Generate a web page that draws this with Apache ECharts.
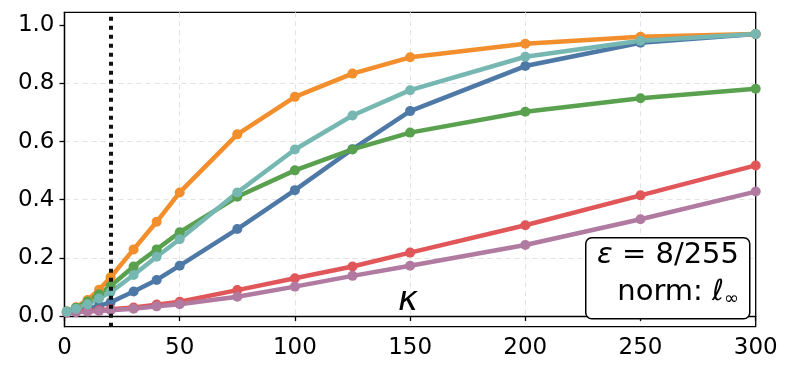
<!DOCTYPE html>
<html>
<head>
<meta charset="utf-8">
<script src="https://cdn.jsdelivr.net/npm/echarts@6/dist/echarts.min.js"></script>
<style>
  html, body { margin: 0; padding: 0; background: #fff; }
  #chart { width: 792px; height: 376px; }
</style>
</head>
<body>
<div id="chart"></div>
<script>
const kappa = [1, 5, 10, 15, 20, 30, 40, 50, 75, 100, 125, 150, 200, 250, 300]
const yTicks = [0, 0.2, 0.4, 0.6, 0.8, 1.0]

const blue = [0.012, 0.018, 0.025, 0.035, 0.047, 0.084, 0.124, 0.173, 0.299, 0.433, 0.574, 0.705, 0.86, 0.94, 0.97]
const orange = [0.015, 0.03, 0.055, 0.09, 0.133, 0.229, 0.324, 0.425, 0.625, 0.754, 0.834, 0.89, 0.937, 0.961, 0.97]
const green = [0.015, 0.028, 0.05, 0.075, 0.103, 0.17, 0.229, 0.288, 0.41, 0.501, 0.573, 0.631, 0.703, 0.749, 0.782]
const red = [0.012, 0.015, 0.018, 0.02, 0.023, 0.029, 0.039, 0.049, 0.089, 0.13, 0.17, 0.218, 0.312, 0.415, 0.518]
const purple = [0.012, 0.013, 0.015, 0.017, 0.02, 0.025, 0.033, 0.04, 0.066, 0.101, 0.138, 0.173, 0.244, 0.333, 0.428]
const teal = [0.015, 0.025, 0.04, 0.06, 0.082, 0.141, 0.204, 0.264, 0.425, 0.573, 0.69, 0.777, 0.892, 0.947, 0.97]

const markerK = 20

const chart = echarts.init(document.getElementById('chart'))

const font = 'DejaVu Sans'

// draw order matters: later series sit on top
const lines = [
  { data: blue, color: '#4e79a7' },
  { data: orange, color: '#f28e2b' },
  { data: green, color: '#59a14f' },
  { data: red, color: '#e15759' },
  { data: purple, color: '#b07aa1' },
  { data: teal, color: '#76b7b2' }
]

const series = lines.map(l => ({
  type: 'line',
  data: kappa.map((k, i) => [k, l.data[i]]),
  symbol: 'circle',
  symbolSize: 10,
  clip: false,
  lineStyle: { width: 4.5, color: l.color },
  itemStyle: { color: l.color },
  emphasis: { disabled: true },
  z: 3
}))

// dotted vertical line at kappa = 20, drawn above the curves
series.push({
  type: 'line',
  data: [],
  markLine: {
    silent: true,
    symbol: 'none',
    label: { show: false },
    lineStyle: { color: '#111', type: [4, 5], width: 4 },
    data: [{ xAxis: markerK }]
  },
  z: 5
})

const gridLine = { show: true, showMaxLine: false, lineStyle: { color: '#e3e3e3', type: [5, 4], width: 1 } }

const boxRich = {
  e: { font: 'italic 29px DejaVu Sans', fill: '#000' },
  n: { font: '29px DejaVu Sans', fill: '#000' },
  s: { font: '18px DejaVu Sans', fill: '#000', padding: [14, 0, 0, 0] }
}

chart.setOption({
  animation: false,
  grid: {
    left: 64.5,
    right: 36.3,
    top: 12.3,
    bottom: 49.3,
    show: true,
    borderColor: '#000',
    borderWidth: 1.3,
    backgroundColor: 'transparent'
  },
  xAxis: {
    type: 'value',
    min: 0,
    max: 300,
    interval: 50,
    axisLine: { show: true, lineStyle: { color: '#000', width: 1.3 } },
    axisTick: { show: true, length: 5, lineStyle: { color: '#000', width: 1.3 } },
    axisLabel: { color: '#000', fontSize: 23, fontFamily: font, margin: 10, showMaxLabel: true, showMinLabel: true },
    splitLine: gridLine
  },
  yAxis: {
    type: 'value',
    min: -0.037,
    max: 1.045,
    axisLine: { show: true, lineStyle: { color: '#000', width: 1.3 } },
    axisTick: { show: true, length: 5, customValues: yTicks, lineStyle: { color: '#000', width: 1.3 } },
    axisLabel: {
      color: '#000', fontSize: 23, fontFamily: font, margin: 10,
      customValues: yTicks,
      formatter: v => v.toFixed(1)
    },
    splitLine: gridLine
  },
  graphic: [
    {
      type: 'text',
      left: 398,
      top: 284,
      style: { text: 'κ', font: 'italic 34px DejaVu Sans', fill: '#000' },
      z: 10
    },
    {
      type: 'rect',
      left: 585,
      top: 237,
      shape: { width: 164, height: 81, r: 6 },
      style: { fill: '#fff', stroke: '#000', lineWidth: 1.5 },
      z: 10
    },
    {
      type: 'text',
      right: 53,
      top: 241,
      style: { text: '{e|ε}{n| = 8/255}', rich: boxRich },
      z: 11
    },
    {
      type: 'text',
      right: 53,
      top: 278,
      style: { text: '{n|norm: }{e|ℓ}{s|∞}', rich: boxRich },
      z: 11
    }
  ],
  series
})
</script>
</body>
</html>
